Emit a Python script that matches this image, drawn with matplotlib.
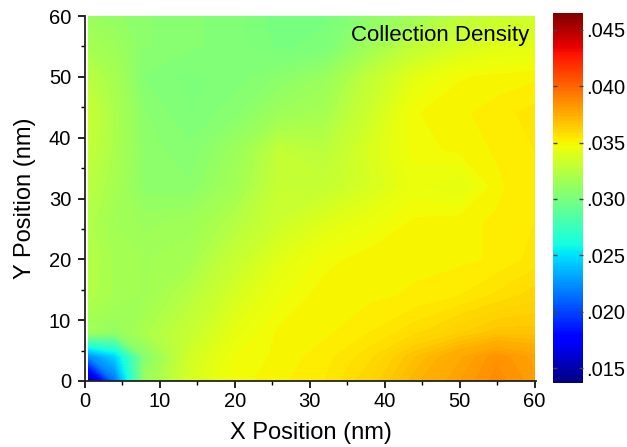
import numpy as np
import matplotlib
matplotlib.use("Agg")
import matplotlib.pyplot as plt
from matplotlib.colors import Normalize
from matplotlib.ticker import MultipleLocator, FuncFormatter

plt.rcParams['font.family'] = ['Liberation Sans', 'DejaVu Sans']

# Sampling positions (nm)
x_pos = [0.5, 4, 8, 14, 20, 26, 32, 38, 44, 50, 55, 60]
y_pos = [0, 4, 8, 14, 20, 26, 32, 38, 44, 50, 55, 60]

# Collection density, one row per y position (bottom to top)
row_y00 = [0.0142, 0.0215, 0.0312, 0.0337, 0.0348, 0.0351, 0.0354, 0.0361, 0.0372, 0.0380, 0.0386, 0.0381]
row_y04 = [0.0222, 0.0245, 0.0305, 0.0335, 0.0347, 0.0350, 0.0353, 0.0358, 0.0368, 0.0377, 0.0384, 0.0379]
row_y08 = [0.0315, 0.0310, 0.0320, 0.0330, 0.0343, 0.0350, 0.0351, 0.0354, 0.0358, 0.0363, 0.0367, 0.0367]
row_y14 = [0.0322, 0.0318, 0.0316, 0.0324, 0.0337, 0.0346, 0.0351, 0.0351, 0.0352, 0.0354, 0.0357, 0.0360]
row_y20 = [0.0323, 0.0318, 0.0316, 0.0318, 0.0330, 0.0341, 0.0348, 0.0351, 0.0351, 0.0351, 0.0352, 0.0355]
row_y26 = [0.0322, 0.0316, 0.0313, 0.0315, 0.0323, 0.0333, 0.0340, 0.0345, 0.0350, 0.0351, 0.0352, 0.0354]
row_y32 = [0.0325, 0.0318, 0.0308, 0.0307, 0.0316, 0.0330, 0.0330, 0.0337, 0.0345, 0.0342, 0.0351, 0.0354]
row_y38 = [0.0328, 0.0320, 0.0308, 0.0305, 0.0313, 0.0328, 0.0325, 0.0338, 0.0348, 0.0350, 0.0352, 0.0354]
row_y44 = [0.0330, 0.0320, 0.0307, 0.0302, 0.0306, 0.0314, 0.0318, 0.0333, 0.0349, 0.0351, 0.0353, 0.0355]
row_y50 = [0.0325, 0.0318, 0.0304, 0.0301, 0.0303, 0.0307, 0.0312, 0.0328, 0.0342, 0.0349, 0.0350, 0.0351]
row_y55 = [0.0318, 0.0314, 0.0307, 0.0305, 0.0303, 0.0299, 0.0301, 0.0315, 0.0328, 0.0336, 0.0341, 0.0342]
row_y60 = [0.0312, 0.0310, 0.0307, 0.0305, 0.0303, 0.0298, 0.0299, 0.0308, 0.0315, 0.0325, 0.0331, 0.0333]

density = np.array([row_y00, row_y04, row_y08, row_y14, row_y20, row_y26,
                    row_y32, row_y38, row_y44, row_y50, row_y55, row_y60])

cbar_ticks = [0.015, 0.020, 0.025, 0.030, 0.035, 0.040, 0.045]
vmin, vmax = 0.01367, 0.0465

fig = plt.figure(figsize=(6.27, 4.47), dpi=100)
ax = fig.add_axes([85 / 627, 66 / 447, 451 / 627, 365 / 447])

norm = Normalize(vmin=vmin, vmax=vmax)
levels = np.linspace(vmin, vmax, 140)
X, Y = np.meshgrid(x_pos, y_pos)
ax.contourf(X, Y, density, levels=levels, cmap='jet', norm=norm)

ax.set_xlim(0, 60.2)
ax.set_ylim(0, 60)
for side in ('top', 'right'):
    ax.spines[side].set_visible(False)
for side in ('left', 'bottom'):
    ax.spines[side].set_linewidth(1.3)
    ax.spines[side].set_color('#222222')

ax.xaxis.set_major_locator(MultipleLocator(10))
ax.xaxis.set_minor_locator(MultipleLocator(5))
ax.yaxis.set_major_locator(MultipleLocator(10))
ax.yaxis.set_minor_locator(MultipleLocator(5))
ax.tick_params(which='major', direction='out', length=5, width=1.2, labelsize=14.5)
ax.tick_params(axis='y', which='major', pad=5)
ax.tick_params(axis='x', which='major', pad=3)
ax.tick_params(which='minor', direction='out', length=3, width=1.0)

ax.set_xlabel('X Position (nm)', fontsize=17, labelpad=8)
ax.set_ylabel('Y Position (nm)', fontsize=17, labelpad=9)

ax.text(0.985, 0.975, 'Collection Density', transform=ax.transAxes,
        ha='right', va='top', fontsize=16, color='black')

# Color scale bar
cax = fig.add_axes([553 / 627, 64 / 447, 30 / 627, 370 / 447])
sm = plt.cm.ScalarMappable(norm=norm, cmap='jet')
cb = fig.colorbar(sm, cax=cax)
cb.outline.set_visible(False)
cb.set_ticks(cbar_ticks)
cb.ax.yaxis.set_major_formatter(FuncFormatter(lambda v, p: f"{v:.3f}".lstrip('0')))
cb.ax.tick_params(which='major', direction='in', length=3, width=1.0, color='#444444',
                  left=True, right=True, labelsize=14.5, pad=2)
cb.ax.minorticks_off()

fig.savefig('out.png', dpi=100)
